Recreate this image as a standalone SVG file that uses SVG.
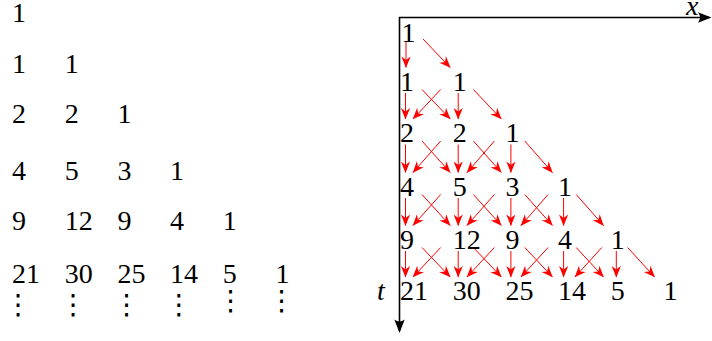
<svg xmlns="http://www.w3.org/2000/svg" width="712" height="341" viewBox="0 0 712 341">
<style>
.n{font-family:"Liberation Serif","Times New Roman",serif;font-size:28px;fill:#000}
.it{font-family:"Liberation Serif","Times New Roman",serif;font-size:28px;font-style:italic;fill:#000}
.vd{font-family:"DejaVu Sans",sans-serif;font-size:28px;fill:#000;text-anchor:middle}
.a{stroke:#ff0000;stroke-width:1;fill:none;marker-end:url(#ra)}
.ax{stroke:#000;stroke-width:1.6;fill:none}
</style>
<defs>
<marker id="ra" markerUnits="userSpaceOnUse" orient="auto" markerWidth="12" markerHeight="10" refX="0" refY="0" style="overflow:visible">
<path d="M0.5,0 L-11,-4.6 L-7.5,0 L-11,4.6 Z" fill="#ff0000"/>
</marker>
<marker id="ba" markerUnits="userSpaceOnUse" orient="auto-start-reverse" markerWidth="14" markerHeight="12" refX="0" refY="0" style="overflow:visible">
<path d="M2,0 L-11.5,-5.2 Q-7.5,0 -11.5,5.2 Z" fill="#000"/>
</marker>
</defs>

<g id="table">
<g id="t-r0"><text class="n" x="12" y="22">1</text></g>
<g id="t-r1"><text class="n" x="12" y="72.5">1</text><text class="n" x="64.7" y="72.5">1</text></g>
<g id="t-r2"><text class="n" x="12" y="123">2</text><text class="n" x="64.7" y="123">2</text><text class="n" x="117.4" y="123">1</text></g>
<g id="t-r3"><text class="n" x="12" y="180">4</text><text class="n" x="64.7" y="180">5</text><text class="n" x="117.4" y="180">3</text><text class="n" x="170.1" y="180">1</text></g>
<g id="t-r4"><text class="n" x="12" y="230">9</text><text class="n" x="64.7" y="230">12</text><text class="n" x="117.4" y="230">9</text><text class="n" x="170.1" y="230">4</text><text class="n" x="222.8" y="230">1</text></g>
<g id="t-r5"><text class="n" x="12" y="283">21</text><text class="n" x="64.7" y="283">30</text><text class="n" x="117.4" y="283">25</text><text class="n" x="170.1" y="283">14</text><text class="n" x="222.8" y="283">5</text><text class="n" x="275.5" y="283">1</text></g>
<g id="t-dots">
<text class="vd" x="18.3" y="314">⋮</text><text class="vd" x="73.3" y="314">⋮</text><text class="vd" x="126.7" y="314">⋮</text><text class="vd" x="179" y="314">⋮</text><text class="vd" x="230.7" y="309.5">⋮</text><text class="vd" x="281.7" y="309.5">⋮</text>
</g>
</g>

<g id="axes">
<path class="ax" d="M399.5,331 V17.5 H709.5" marker-start="url(#ba)" marker-end="url(#ba)"/>
<text class="it" x="686" y="15">x</text>
<text class="it" x="377" y="300">t</text>
</g>

<g id="connectors">
<line class="a" x1="406" y1="42" x2="406" y2="67.5"/>
<line class="a" x1="423" y1="39" x2="450.2" y2="67.5"/>

<line class="a" x1="405.5" y1="93" x2="405.5" y2="119"/>
<line class="a" x1="422" y1="89.5" x2="450.2" y2="119"/>
<line class="a" x1="458.2" y1="93" x2="458.2" y2="119"/>
<line class="a" x1="440.7" y1="89.5" x2="413" y2="119"/>
<line class="a" x1="473.4" y1="89.5" x2="501.3" y2="119"/>

<line class="a" x1="405.5" y1="144.5" x2="405.5" y2="172.5"/>
<line class="a" x1="422" y1="141" x2="450.2" y2="172.5"/>
<line class="a" x1="458.2" y1="144.5" x2="458.2" y2="172.5"/>
<line class="a" x1="440.7" y1="141" x2="413" y2="172.5"/>
<line class="a" x1="473.4" y1="141" x2="501.3" y2="172.5"/>
<line class="a" x1="510.9" y1="144.5" x2="510.9" y2="172.5"/>
<line class="a" x1="494.4" y1="141" x2="467" y2="172.5"/>
<line class="a" x1="524.8" y1="141" x2="552.4" y2="172.5"/>

<line class="a" x1="405.5" y1="198" x2="405.5" y2="225.5"/>
<line class="a" x1="422" y1="194.5" x2="450.2" y2="225.5"/>
<line class="a" x1="458.2" y1="198" x2="458.2" y2="225.5"/>
<line class="a" x1="440.7" y1="194.5" x2="413" y2="225.5"/>
<line class="a" x1="473.4" y1="194.5" x2="501.3" y2="225.5"/>
<line class="a" x1="510.9" y1="198" x2="510.9" y2="225.5"/>
<line class="a" x1="494.4" y1="194.5" x2="467" y2="225.5"/>
<line class="a" x1="524.8" y1="194.5" x2="552.4" y2="225.5"/>
<line class="a" x1="563.6" y1="198" x2="563.6" y2="225.5"/>
<line class="a" x1="548.1" y1="194.5" x2="521" y2="225.5"/>
<line class="a" x1="576.2" y1="194.5" x2="603.5" y2="225.5"/>

<line class="a" x1="405.5" y1="251" x2="405.5" y2="277"/>
<line class="a" x1="422" y1="247.5" x2="450.2" y2="277"/>
<line class="a" x1="458.2" y1="251" x2="458.2" y2="277"/>
<line class="a" x1="440.7" y1="247.5" x2="413" y2="277"/>
<line class="a" x1="473.4" y1="247.5" x2="501.3" y2="277"/>
<line class="a" x1="510.9" y1="251" x2="510.9" y2="277"/>
<line class="a" x1="494.4" y1="247.5" x2="467" y2="277"/>
<line class="a" x1="524.8" y1="247.5" x2="552.4" y2="277"/>
<line class="a" x1="563.6" y1="251" x2="563.6" y2="277"/>
<line class="a" x1="548.1" y1="247.5" x2="521" y2="277"/>
<line class="a" x1="576.2" y1="247.5" x2="603.5" y2="277"/>
<line class="a" x1="616.3" y1="251" x2="616.3" y2="277"/>
<line class="a" x1="601.8" y1="247.5" x2="575" y2="277"/>
<line class="a" x1="627.6" y1="247.5" x2="654.6" y2="277"/>
</g>

<g id="nodes">
<g id="n00"><text class="n" x="401.5" y="42">1</text></g>
<g id="n10"><text class="n" x="400" y="90.5">1</text></g>
<g id="n11"><text class="n" x="452.7" y="90.5">1</text></g>
<g id="n20"><text class="n" x="400" y="142">2</text></g>
<g id="n21"><text class="n" x="452.7" y="142">2</text></g>
<g id="n22"><text class="n" x="505.4" y="142">1</text></g>
<g id="n30"><text class="n" x="400" y="195.5">4</text></g>
<g id="n31"><text class="n" x="452.7" y="195.5">5</text></g>
<g id="n32"><text class="n" x="505.4" y="195.5">3</text></g>
<g id="n33"><text class="n" x="558.1" y="195.5">1</text></g>
<g id="n40"><text class="n" x="400" y="248.5">9</text></g>
<g id="n41"><text class="n" x="452.7" y="248.5">12</text></g>
<g id="n42"><text class="n" x="505.4" y="248.5">9</text></g>
<g id="n43"><text class="n" x="558.1" y="248.5">4</text></g>
<g id="n44"><text class="n" x="610.8" y="248.5">1</text></g>
<g id="n50"><text class="n" x="400" y="300">21</text></g>
<g id="n51"><text class="n" x="452.7" y="300">30</text></g>
<g id="n52"><text class="n" x="505.4" y="300">25</text></g>
<g id="n53"><text class="n" x="558.1" y="300">14</text></g>
<g id="n54"><text class="n" x="610.8" y="300">5</text></g>
<g id="n55"><text class="n" x="663.5" y="300">1</text></g>
</g>
</svg>
